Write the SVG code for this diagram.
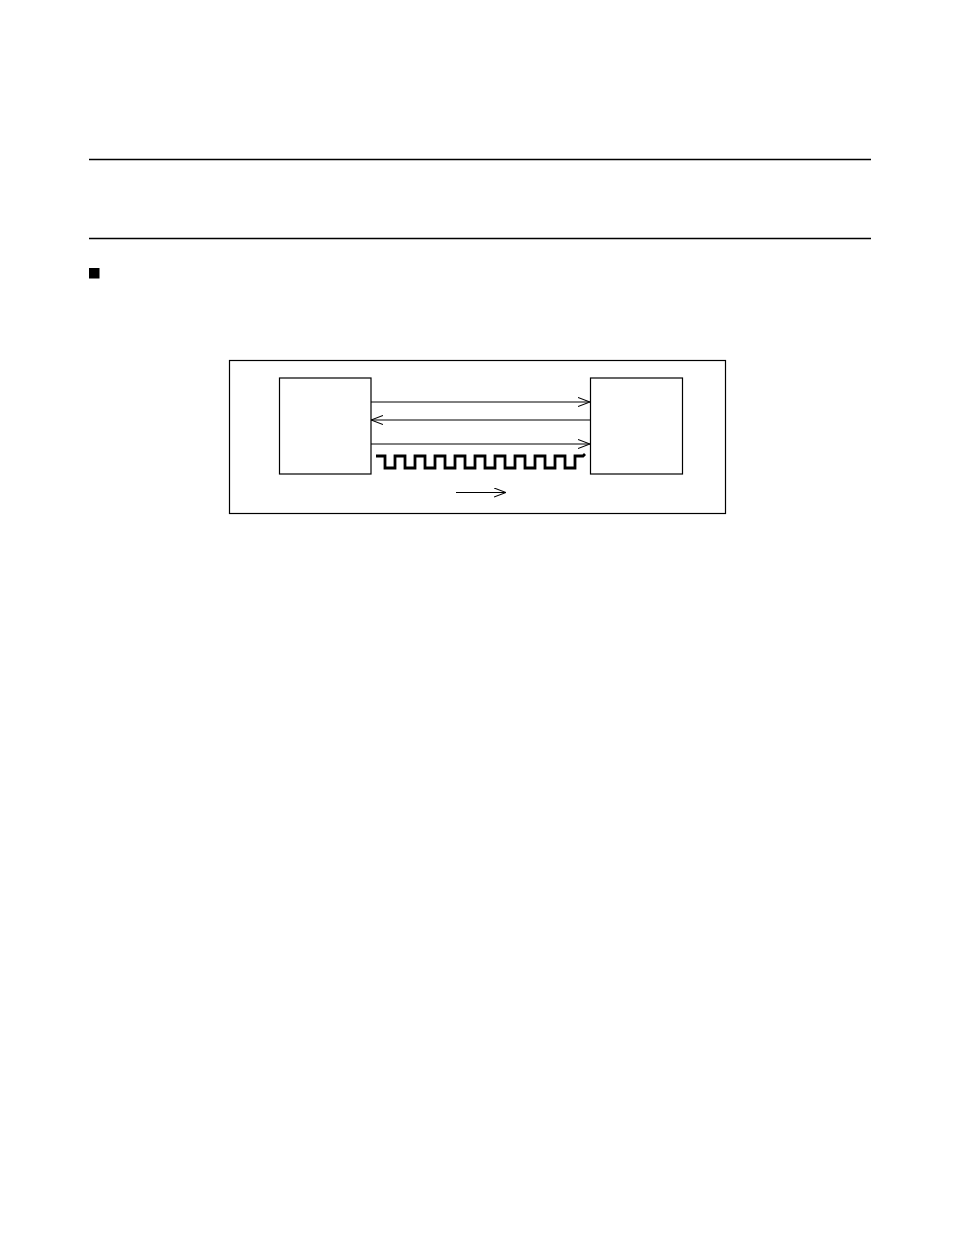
<svg xmlns="http://www.w3.org/2000/svg" width="954" height="1235" viewBox="0 0 954 1235">
<style>
.rule{stroke:#000;stroke-width:1.3;fill:none}
.box{stroke:#000;stroke-width:1.2;fill:#fff}
.conn{stroke:#000;stroke-width:1;fill:none}
.wave{stroke:#000;stroke-width:2.8;fill:none;stroke-linejoin:miter}
</style>
<defs>
<marker id="arr" viewBox="0 0 12 10" refX="12" refY="5" markerWidth="12" markerHeight="10" markerUnits="userSpaceOnUse" orient="auto">
<path d="M0,0.5 L12,5 L0,9.5" fill="none" stroke="#000" stroke-width="1.1"/>
</marker>
</defs>
<rect width="954" height="1235" fill="#fff"/>
<g id="page-rules">
<line class="rule" x1="89" y1="159.5" x2="871" y2="159.5"/>
<line class="rule" x1="89" y1="238.5" x2="871" y2="238.5"/>
<rect x="89" y="268" width="10.5" height="10.5" fill="#000"/>
</g>
<g id="frame">
<rect class="box" x="229.5" y="360.5" width="496" height="153"/>
</g>
<g id="node-left">
<rect class="box" x="279.5" y="378" width="91.5" height="96"/>
</g>
<g id="node-right">
<rect class="box" x="590.5" y="378" width="92" height="96"/>
</g>
<g id="connectors">
<line class="conn" x1="371" y1="402" x2="590" y2="402" marker-end="url(#arr)"/>
<line class="conn" x1="590" y1="420" x2="371" y2="420" marker-end="url(#arr)"/>
<line class="conn" x1="371" y1="444" x2="590" y2="444" marker-end="url(#arr)"/>
<path class="wave" d="M376,456 H385 V468 H395 V456 H405 V468 H415 V456 H425 V468 H435 V456 H445 V468 H455 V456 H465 V468 H475 V456 H485 V468 H495 V456 H505 V468 H515 V456 H525 V468 H535 V456 H545 V468 H555 V456 H565 V468 H575 V456 H583 L585,454"/>
<line class="conn" x1="456" y1="492.5" x2="506" y2="492.5" marker-end="url(#arr)"/>
</g>
</svg>
